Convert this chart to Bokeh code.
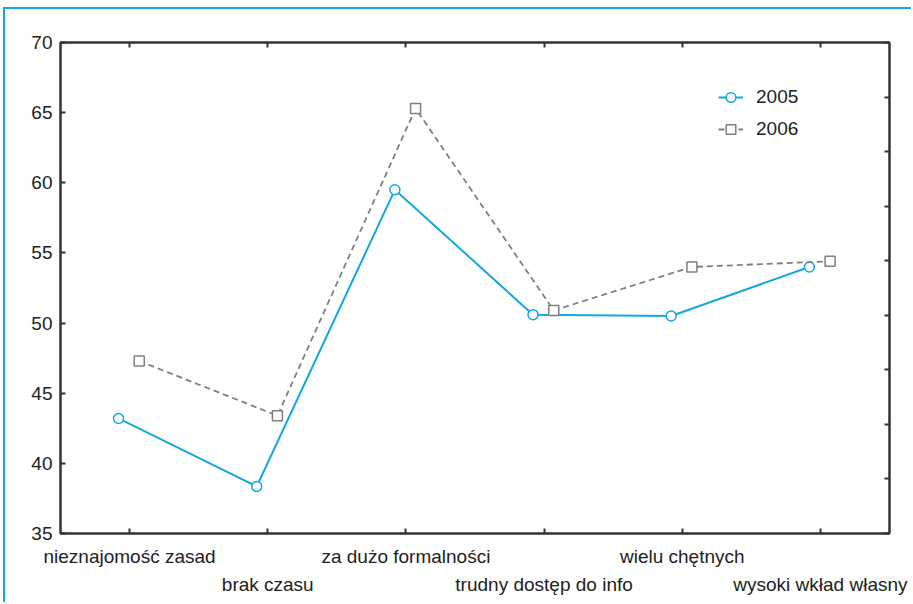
import numpy as np
from bokeh.plotting import figure
from bokeh.models import LinearAxis, FixedTicker, Range1d, Legend, LegendItem
from bokeh.embed import file_html
from bokeh.resources import INLINE

categories = ["nieznajomość zasad", "brak czasu", "za dużo formalności",
              "trudny dostęp do info", "wielu chętnych", "wysoki wkład własny"]
y2005 = [43.2, 38.35, 59.5, 50.6, 50.5, 54.0]
y2006 = [47.3, 43.4, 65.3, 50.9, 54.0, 54.4]
yticks = [35, 40, 45, 50, 55, 60, 65, 70]

CYAN = "#12A8E0"
GRAY = "#7f7f7f"
FONT = "Liberation Sans"

idx = np.arange(len(categories))
x05 = idx - 0.08
x06 = idx + 0.07

p = figure(width=908, height=595, output_backend="svg", toolbar_location=None,
           x_range=Range1d(-0.5, 5.5), y_range=Range1d(35, 70),
           min_border_left=55, min_border_top=33, min_border_right=24, min_border_bottom=71,
           x_axis_type=None, y_axis_type=None)
p.margin = (7, 0, 0, 3)
p.styles = {"border-top": f"2px solid {CYAN}", "border-left": f"2px solid {CYAN}"}
p.outline_line_color = "#333333"
p.outline_line_width = 2

def style_axis(ax, labels=True):
    ax.axis_line_color = "#333333"
    ax.axis_line_width = 2
    ax.major_tick_in = 5
    ax.major_tick_out = 0
    ax.major_tick_line_color = "#333333"
    ax.major_tick_line_width = 2
    ax.minor_tick_line_color = None
    ax.major_label_text_font = FONT
    ax.major_label_text_font_size = "19px"
    ax.major_label_text_color = "#222222"
    if not labels:
        ax.major_label_text_font_size = "0px"

yl = LinearAxis(ticker=FixedTicker(ticks=yticks))
style_axis(yl)
yl.major_label_standoff = 8
p.add_layout(yl, "left")

yr = LinearAxis(ticker=FixedTicker(ticks=[35 + k * 35 / 9 for k in range(10)]))
style_axis(yr, labels=False)
yr.major_label_standoff = 0
p.add_layout(yr, "right")

xt = LinearAxis(ticker=FixedTicker(ticks=list(idx)))
style_axis(xt, labels=False)
xt.major_label_standoff = 0
p.add_layout(xt, "above")

xb = LinearAxis(ticker=FixedTicker(ticks=list(idx)))
style_axis(xb)
xb.major_label_standoff = 12
xb.major_label_overrides = {int(i): (categories[i] if i % 2 == 0 else "") for i in idx}
p.add_layout(xb, "below")

xb2 = LinearAxis(ticker=FixedTicker(ticks=[1, 3, 5]))
style_axis(xb2)
xb2.axis_line_color = None
xb2.major_tick_line_color = None
xb2.major_label_standoff = 4
xb2.major_label_overrides = {int(i): categories[i] for i in [1, 3, 5]}
p.add_layout(xb2, "below")

p.xgrid.ticker = FixedTicker(ticks=list(idx))
p.ygrid.ticker = FixedTicker(ticks=yticks)
for g in (p.xgrid, p.ygrid):
    g.grid_line_color = "#c8c8c8"
    g.grid_line_dash = "2 2"
    g.grid_line_width = 1

l1 = p.line(x05, y2005, line_color=CYAN, line_width=2)
m1 = p.scatter(x05, y2005, marker="circle", size=10, line_color=CYAN, fill_color="white", line_width=1.5)
l2 = p.line(x06, y2006, line_color=GRAY, line_width=1.8, line_dash="6 4")
m2 = p.scatter(x06, y2006, marker="square", size=10, line_color=GRAY, fill_color="white", line_width=1.5)

legend = Legend(items=[LegendItem(label="2005", renderers=[l1, m1]),
                       LegendItem(label="2006", renderers=[l2, m2])],
                location=(658, 392))
legend.border_line_color = None
legend.background_fill_alpha = 0
legend.label_text_font = FONT
legend.label_text_font_size = "19px"
legend.label_text_color = "#222222"
legend.glyph_width = 25
legend.glyph_height = 24
legend.label_height = 24
legend.spacing = 8
legend.label_standoff = 13
p.add_layout(legend, "center")

open("out.html", "w").write(file_html(p, INLINE))
